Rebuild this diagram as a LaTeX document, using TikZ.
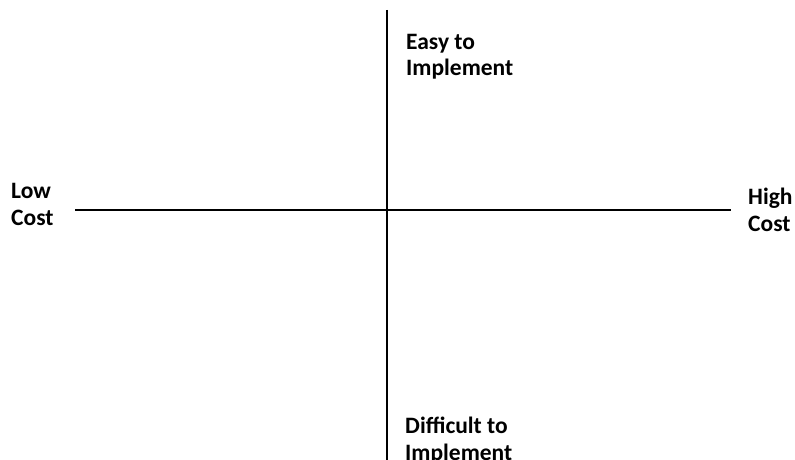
\documentclass[tikz,border=0pt]{standalone}
\usepackage{fontspec}
\setmainfont{Carlito}
\begin{document}
\begin{tikzpicture}[x=1pt,y=-1pt,
  lbl/.style={anchor=base west,align=left,inner sep=0pt,font=\fontsize{23.5}{27}\selectfont\bfseries},
  axis/.style={line width=2pt,black}]
\useasboundingbox (0,0) rectangle (795,460);
\clip (0,0) rectangle (795,460);
\coordinate (top) at (387,10);
\coordinate (bot) at (387,460);
\coordinate (left) at (75,210);
\coordinate (right) at (731,210);
\draw[axis] (top) -- (bot);
\draw[axis] (left) -- (right);
\node[lbl] (easy) at (406,76) {Easy to\\Implement};
\node[lbl] (low) at (11,225) {Low\\Cost};
\node[lbl] (high) at (748,231) {High\\Cost};
\node[lbl] (diff) at (405,460) {Difficult to\\Implement};
\end{tikzpicture}
\end{document}
